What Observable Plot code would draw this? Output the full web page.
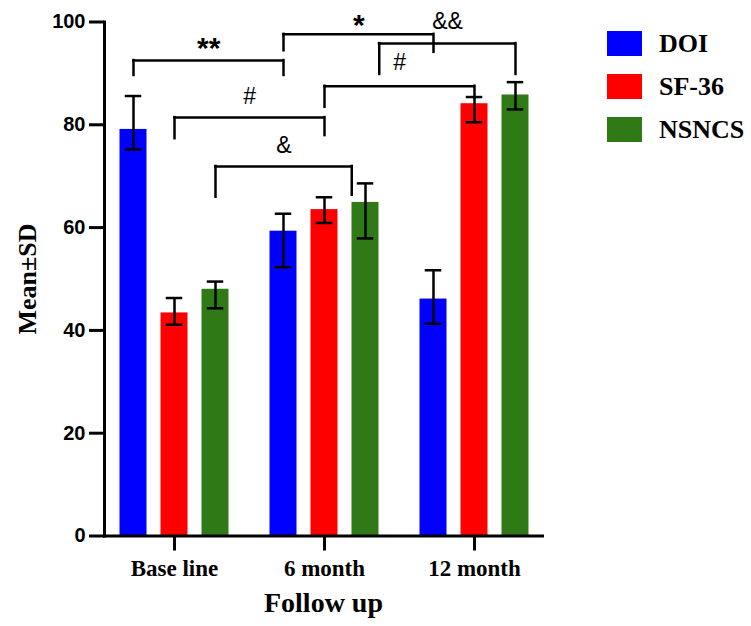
<!DOCTYPE html>
<html>
<head>
<meta charset="utf-8">
<script src="https://cdn.jsdelivr.net/npm/d3@7"></script>
<script src="https://cdn.jsdelivr.net/npm/@observablehq/plot@0.6"></script>
<style>
  body { margin: 0; background: #fff; }
  #wrap { position: relative; width: 751px; height: 626px; background: #fff; }
  #legend { position: absolute; left: 607px; top: 31px; font-family: "Liberation Serif", serif; font-weight: bold; font-size: 26px; color: #000; }
  .row { display: flex; align-items: center; height: 25px; margin-bottom: 18px; }
  .sw { width: 35px; height: 25px; margin-right: 17px; box-sizing: border-box; }
  .lab { line-height: 25px; white-space: nowrap; }
</style>
</head>
<body>
<div id="wrap"><div id="chart"></div><div id="legend"></div></div>
<script>
// ---- data ----
const groups = ["Base line", "6 month", "12 month"];
const series = ["DOI", "SF-36", "NSNCS"];
const colors = ["#0000ff", "#ff0000", "#2f7a16"];

const doiMean = [79.1, 59.3, 46.1];
const doiLow  = [75.2, 52.3, 41.3];
const doiHigh = [85.6, 62.7, 51.7];
const sfMean  = [43.4, 63.5, 84.1];
const sfLow   = [41.1, 60.9, 80.5];
const sfHigh  = [46.3, 65.9, 85.4];
const nsMean  = [48.0, 64.9, 85.8];
const nsLow   = [44.3, 57.9, 83.0];
const nsHigh  = [49.5, 68.6, 88.3];

const yTicks = [0, 20, 40, 60, 80, 100];
const xLabel = "Follow up";
const yLabel = "Mean±SD";

// significance brackets
const bracketLabel  = ["**", "#", "&", "*", "#", "&&"];
const bracketGroup1 = ["Base line", "Base line", "Base line", "6 month", "6 month", "6 month"];
const bracketGroup2 = ["6 month", "6 month", "6 month", "12 month", "12 month", "12 month"];
const bracketSeries = ["DOI", "SF-36", "NSNCS", "DOI", "SF-36", "NSNCS"];
const bracketEnd1   = ["center", "center", "center", "center", "center", "right"];
const bracketEnd2   = ["center", "center", "left", "center", "center", "center"];
const bracketTop    = [92.5, 81.4, 71.9, 97.6, 87.5, 95.8];
const bracketLeg1   = [89.6, 77.3, 65.9, 94.4, 83.4, 89.8];
const bracketLeg2   = [89.6, 77.9, 66.3, 94.1, 85.1, 89.8];
const bracketTextY  = [92.9, 84.1, 74.6, 97.5, 90.6, 98.7];

// ---- layout / style ----
const W = 751, H = 626;
const marginLeft = 104, marginRight = W - 542, marginTop = 21.5, marginBottom = H - 535.5;
const xRange = [98, 549.5];
const step = (xRange[1] - xRange[0]) / groups.length;
const bw = step;
const barW = 27.5, capW = 17;
const seriesOffset = [-41, 0, 41];
const serif = "Liberation Serif, Times New Roman, serif";
const sans = "Liberation Sans, Arial, sans-serif";

const means = [doiMean, sfMean, nsMean];
const lows = [doiLow, sfLow, nsLow];
const highs = [doiHigh, sfHigh, nsHigh];

const rows = [];
series.forEach((s, si) => groups.forEach((g, gi) => rows.push({
  group: g, series: s, mean: means[si][gi], low: lows[si][gi], high: highs[si][gi]
})));

function anchorOffset(s, end) {
  const off = seriesOffset[series.indexOf(s)];
  return end === "left" ? off - barW / 2 : end === "right" ? off + barW / 2 : off;
}

const marks = [];
series.forEach((s, si) => {
  const d = rows.filter(r => r.series === s);
  marks.push(Plot.barY(d, {
    x: "group", y: "mean", fill: colors[si],
    insetLeft: (bw - barW) / 2, insetRight: (bw - barW) / 2, dx: seriesOffset[si]
  }));
});
marks.push(Plot.frame({anchor: "left", stroke: "black", strokeWidth: 3, strokeLinecap: "square"}));
marks.push(Plot.frame({anchor: "bottom", stroke: "black", strokeWidth: 3, strokeLinecap: "square"}));
series.forEach((s, si) => {
  const d = rows.filter(r => r.series === s);
  const off = seriesOffset[si];
  marks.push(Plot.ruleX(d, {x: "group", y1: "low", y2: "high", dx: off, stroke: "black", strokeWidth: 2.5}));
  for (const k of ["low", "high"]) {
    marks.push(Plot.tickY(d, {x: "group", y: k, dx: off, stroke: "black", strokeWidth: 2.5,
      insetLeft: (bw - capW) / 2, insetRight: (bw - capW) / 2}));
  }
});

bracketLabel.forEach((lab, i) => {
  const b = {g1: bracketGroup1[i], g2: bracketGroup2[i], top: bracketTop[i],
             leg1: bracketLeg1[i], leg2: bracketLeg2[i], ty: bracketTextY[i], label: lab};
  const o1 = anchorOffset(bracketSeries[i], bracketEnd1[i]);
  const o2 = anchorOffset(bracketSeries[i], bracketEnd2[i]);
  const span = (groups.indexOf(b.g2) - groups.indexOf(b.g1)) * step;
  const st = {stroke: "black", strokeWidth: 2.5, strokeLinecap: "square"};
  marks.push(Plot.ruleX([b], {x: "g1", y1: "leg1", y2: "top", dx: o1, ...st}));
  marks.push(Plot.ruleX([b], {x: "g2", y1: "leg2", y2: "top", dx: o2, ...st}));
  marks.push(Plot.ruleY([b], {y: "top", x1: "g1", x2: "g2", insetLeft: bw / 2 + o1, insetRight: bw / 2 - o2, ...st}));
  const isStar = lab.includes("*");
  marks.push(Plot.text([b], {
    x: "g1", y: "ty", text: "label", dx: (o1 + span + o2) / 2, lineAnchor: "bottom",
    fontSize: isStar ? 30 : 23, fontWeight: isStar ? "bold" : "normal", fontFamily: sans, fill: "black"
  }));
});

marks.push(Plot.axisY({ticks: yTicks, tickSize: 15, tickPadding: 4, stroke: "black", strokeWidth: 3,
  fontSize: 20, fontWeight: "bold", fontFamily: sans, fill: "black", label: null, tickFormat: d => String(d)}));
marks.push(Plot.axisX({tickSize: 15, tickPadding: 9, stroke: "black", strokeWidth: 3,
  fontSize: 23, fontWeight: "bold", fontFamily: serif, fill: "black", label: null}));
marks.push(Plot.text([xLabel], {text: d => d, frameAnchor: "bottom", dy: 76, lineAnchor: "bottom", textAnchor: "middle",
  fontSize: 28, fontWeight: "bold", fontFamily: serif, fill: "black"}));
marks.push(Plot.text([yLabel], {text: d => d, frameAnchor: "left", dx: -69, rotate: -90, lineAnchor: "bottom", textAnchor: "middle",
  fontSize: 26, fontWeight: "bold", fontFamily: serif, fill: "black"}));

const chart = Plot.plot({
  width: W, height: H,
  marginLeft, marginRight, marginTop, marginBottom,
  style: {background: "white", color: "black", fontFamily: sans, overflow: "visible"},
  x: {type: "band", domain: groups, range: xRange, padding: 0, axis: null},
  y: {domain: [0, 100], axis: null},
  marks
});
document.getElementById("chart").appendChild(chart);

const legend = document.getElementById("legend");
series.forEach((s, si) => {
  const row = document.createElement("div");
  row.className = "row";
  const sw = document.createElement("div");
  sw.className = "sw";
  sw.style.background = colors[si];
  const lab = document.createElement("span");
  lab.className = "lab";
  lab.textContent = s;
  row.appendChild(sw); row.appendChild(lab);
  legend.appendChild(row);
});
</script>
</body>
</html>
